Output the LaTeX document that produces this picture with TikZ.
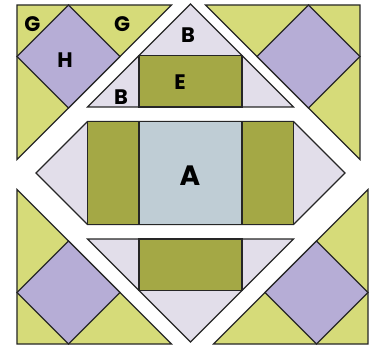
\documentclass[tikz,border=0pt]{standalone}
\usepackage{fontspec}
\setmainfont{Poppins}
\definecolor{PaleLime}{RGB}{214,219,121}
\definecolor{Lilac}{RGB}{182,173,214}
\definecolor{Olive}{RGB}{164,168,69}
\definecolor{PaleLilac}{RGB}{226,222,234}
\definecolor{BlueGray}{RGB}{191,205,213}
\definecolor{Seam}{RGB}{38,38,38}
\usepackage{tikz}
\usetikzlibrary{positioning}

\begin{document}
\begin{tikzpicture}[x=51.5pt,y=-51.5pt,
    patch/.style={draw=Seam, line width=1.2pt, line join=miter},
    tag/.style={font=\bfseries\fontsize{21}{21}\selectfont, inner sep=0pt},
    bigtag/.style={font=\bfseries\fontsize{28}{28}\selectfont, inner sep=0pt}]
  \useasboundingbox (0,0) rectangle (7.262,6.718);

  % corner triangles with the H square
  \foreach \px/\py/\sx/\sy in {0.330/0.097/1/1, 6.990/0.097/-1/1, 0.330/6.680/1/-1, 7.146/6.680/-1/-1}
  {
    \begin{scope}[shift={(\px,\py)}, xscale=\sx, yscale=\sy]
      \filldraw[patch, fill=PaleLime] (0,0) -- (3,0) -- (0,3) -- cycle;
      \filldraw[patch, fill=Lilac] (1,0) -- (2,1) -- (1,2) -- (0,1) -- cycle;
    \end{scope}
  }

  % top row
  \begin{scope}[shift={(3.699,3.077)}]
    \filldraw[patch, fill=PaleLilac] (-2,-1) -- (0,-3) -- (2,-1) -- cycle;
    \filldraw[patch, fill=Olive] (-1,-2) rectangle (1,-1);
  \end{scope}

  % middle row
  \begin{scope}[shift={(3.699,3.359)}]
    \filldraw[patch, fill=PaleLilac] (-3,0) -- (-2,-1) -- (2,-1) -- (3,0) -- (2,1) -- (-2,1) -- cycle;
    \filldraw[patch, fill=Olive] (-2,-1) rectangle (-1,1);
    \filldraw[patch, fill=Olive] (1,-1) rectangle (2,1);
    \filldraw[patch, fill=BlueGray] (-1,-1) rectangle (1,1);
  \end{scope}

  % bottom row
  \begin{scope}[shift={(3.699,3.641)}]
    \filldraw[patch, fill=PaleLilac] (-2,1) -- (2,1) -- (0,3) -- cycle;
    \filldraw[patch, fill=Olive] (-1,1) rectangle (1,2);
  \end{scope}

  % labels
  \node[tag] (g1) at (0.631,0.476) {G};
  \node[tag] (g2) at (2.369,0.476) {G};
  \node[tag] (h) at (1.262,1.165) {H};
  \node[tag] (btop) at (3.650,0.689) {B};
  \node[tag] (bleft) at (2.350,1.883) {B};
  \node[tag] (e) at (3.495,1.602) {E};
  \node[bigtag] (a) at (3.689,3.417) {A};
\end{tikzpicture}
\end{document}
